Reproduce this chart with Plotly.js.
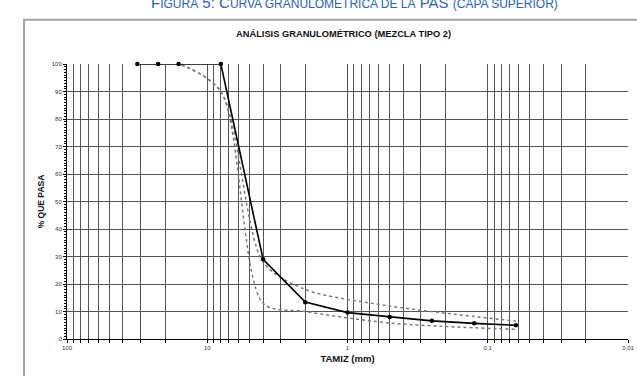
<!DOCTYPE html>
<html>
<head>
<meta charset="utf-8">
<script src="https://cdn.plot.ly/plotly-3.0.1.min.js"></script>
<style>
  html, body { margin: 0; padding: 0; background: #fff; }
  #chart { width: 637px; height: 376px; }
</style>
</head>
<body>
<div id="chart"></div>
<script>
// Sieve openings (mm) and percentage passing for the mix
const sieveMix = [31.5, 22.4, 16, 8, 4, 2, 1, 0.5, 0.25, 0.125, 0.063];
const passMix  = [100, 100, 100, 100, 29, 13.4, 9.6, 8, 6.6, 5.7, 5];

// Specification envelope (upper and lower limits)
const sieveSpec  = [22.4, 16, 8, 4, 2, 0.5, 0.063];
const specUpper  = [100, 100, 90, 28, 18, 12, 6.5];
const specLower  = [100, 100, 90, 13, 10, 5.8, 3.5];

// Axis ticks
const decadeTicks  = [100, 10, 1, 0.1, 0.01];
const decadeLabels = ['100', '10', '1', '0,1', '0,01'];
const yTicks = [0, 10, 20, 30, 40, 50, 60, 70, 80, 90, 100];

// Intermediate log grid lines (2..9 within each decade)
const minorX = [];
[10, 1, 0.1, 0.01].forEach(function (d) {
  for (let k = 2; k <= 9; k++) minorX.push(+(d * k).toPrecision(3));
});

const gridColor = '#555';
const font = 'Liberation Sans, Arial, sans-serif';

const traces = [
  {
    x: sieveSpec, y: specUpper, type: 'scatter', mode: 'lines',
    line: { color: '#7a7a7a', width: 1.5, dash: 'dot', shape: 'spline', smoothing: 0.8 },
    hoverinfo: 'skip', showlegend: false
  },
  {
    x: sieveSpec, y: specLower, type: 'scatter', mode: 'lines',
    line: { color: '#7a7a7a', width: 1.5, dash: 'dot', shape: 'spline', smoothing: 0.8 },
    hoverinfo: 'skip', showlegend: false
  },
  {
    x: sieveMix, y: passMix, type: 'scatter', mode: 'lines+markers',
    line: { color: '#000', width: 1.6 },
    marker: { color: '#000', size: 4.5, symbol: 'circle' },
    cliponaxis: false, showlegend: false
  }
];

const layout = {
  width: 637, height: 376,
  margin: { l: 67, r: 9, t: 64, b: 37 },
  paper_bgcolor: '#fff', plot_bgcolor: '#fff',
  font: { family: font, color: '#222' },
  showlegend: false,
  xaxis: {
    type: 'log', autorange: false, range: [2, -2],
    tickmode: 'array', tickvals: decadeTicks, ticktext: decadeLabels,
    tickfont: { size: 6, color: '#333' },
    ticks: 'outside', ticklen: 3, tickcolor: '#000',
    showgrid: true, gridcolor: gridColor, gridwidth: 1,
    minor: { tickmode: 'array', tickvals: minorX, showgrid: true, gridcolor: gridColor, gridwidth: 1,
             ticks: 'outside', ticklen: 3, tickcolor: '#000' },
    showline: true, linecolor: '#000', linewidth: 1,
    zeroline: false,
    title: { text: '<b>TAMIZ (mm)</b>', font: { size: 9.5, color: '#111', family: font }, standoff: 5 }
  },
  yaxis: {
    range: [0, 100], autorange: false,
    tickmode: 'array', tickvals: yTicks,
    tickfont: { size: 6, color: '#333' },
    ticks: 'outside', ticklen: 3, tickcolor: '#000',
    showgrid: true, gridcolor: gridColor, gridwidth: 1,
    minor: { dtick: 1, ticks: 'outside', ticklen: 2, tickcolor: '#000', showgrid: false },
    showline: true, linecolor: '#000', linewidth: 1,
    zeroline: false,
    title: { text: '<b>% QUE PASA</b>', font: { size: 8.5, color: '#111', family: font }, standoff: 5 }
  },
  shapes: [
    { type: 'rect', xref: 'paper', yref: 'paper', x0: -0.0766, x1: 1.1, y0: -0.3, y1: 1.161,
      line: { color: '#a3a3a3', width: 2 }, fillcolor: 'rgba(0,0,0,0)', layer: 'below' }
  ],
  annotations: [
    {
      xref: 'paper', yref: 'paper', x: 0.513, y: 1.224, xanchor: 'center', yanchor: 'middle',
      showarrow: false,
      text: 'F<span style="font-size:12px">IGURA</span> 5: C<span style="font-size:12px">URVA GRANULOMÉTRICA DE LA</span> PAS <span style="font-size:12px">(CAPA SUPERIOR)</span>',
      font: { size: 15, color: '#1f63c6', family: font }
    },
    {
      xref: 'paper', yref: 'paper', x: 0.492, y: 1.110, xanchor: 'center', yanchor: 'middle',
      showarrow: false,
      text: '<b>ANÁLISIS GRANULOMÉTRICO (MEZCLA TIPO 2)</b>',
      font: { size: 9.3, color: '#111', family: font }
    }
  ]
};

Plotly.newPlot('chart', traces, layout, { staticPlot: true, displayModeBar: false });
</script>
</body>
</html>
